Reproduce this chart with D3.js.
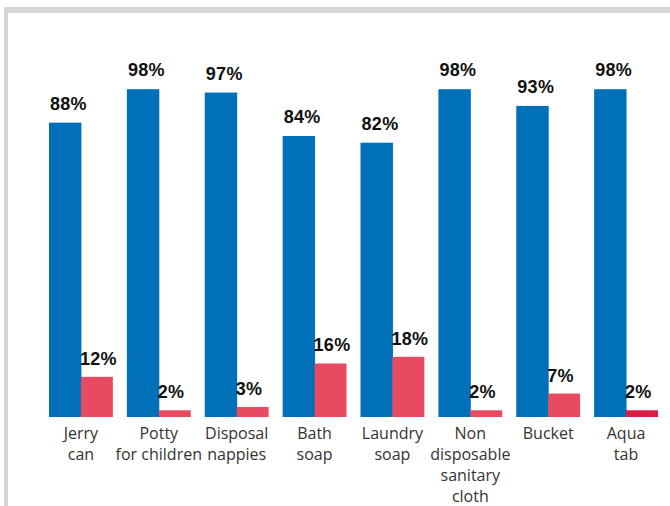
<!DOCTYPE html>
<html lang="en">
<head>
<meta charset="UTF-8">
<title>Bar chart</title>
<script src="https://d3js.org/d3.v7.min.js"></script>
<style>
  html, body { margin: 0; padding: 0; background: #fff; }
  .val { font-family: 'Liberation Sans', Arial, sans-serif; font-weight: bold; font-size: 18px; fill: #111; letter-spacing: 0.3px; }
  .cat { font-family: 'Open Sans', sans-serif; font-size: 16px; fill: #333; }
</style>
</head>
<body>
<div id="chart"></div>
<script>
// data
const categories = [
  ["Jerry", "can"],
  ["Potty", "for children"],
  ["Disposal", "nappies"],
  ["Bath", "soap"],
  ["Laundry", "soap"],
  ["Non", "disposable", "sanitary", "cloth"],
  ["Bucket"],
  ["Aqua", "tab"]
];
const blueValues = [88, 98, 97, 84, 82, 98, 93, 98];
const redValues = [12, 2, 3, 16, 18, 2, 7, 2];
const redColors = ["#e84a62", "#e84a62", "#e84a62", "#e84a62", "#e84a62", "#e84a62", "#e84a62", "#d91c42"];

const W = 670, H = 506;
const baseY = 417;

const svg = d3.select("#chart").append("svg")
  .attr("width", W).attr("height", H);

// grey frame on top and left
svg.append("rect").attr("x", 4).attr("y", 7).attr("width", W - 4).attr("height", 6).attr("fill", "#d5d5d5");
svg.append("rect").attr("x", 4).attr("y", 7).attr("width", 4).attr("height", H - 7).attr("fill", "#d5d5d5");

const keys = categories.map((c, i) => i);
const x = d3.scaleBand().domain(keys).range([49, 658]).paddingInner(0.18).paddingOuter(0);
const sub = d3.scaleBand().domain(["blue", "red"]).range([0, x.bandwidth()]);
const y = d3.scaleLinear().domain([0, 100]).range([baseY, 82.5]);

const groups = svg.selectAll("g.grp").data(keys).join("g")
  .attr("class", "grp")
  .attr("transform", i => `translate(${x(i)},0)`);

// blue bars
groups.append("rect")
  .attr("x", sub("blue"))
  .attr("y", i => y(blueValues[i]))
  .attr("width", sub.bandwidth() + 0.5)
  .attr("height", i => baseY - y(blueValues[i]))
  .attr("fill", "#0070b9");

// red bars
groups.append("rect")
  .attr("x", sub("red"))
  .attr("y", i => y(redValues[i]))
  .attr("width", sub.bandwidth())
  .attr("height", i => baseY - y(redValues[i]))
  .attr("fill", i => redColors[i]);

// value labels
groups.append("text").attr("class", "val")
  .attr("x", sub("blue") + 1)
  .attr("y", i => y(blueValues[i]) - 13)
  .text(i => blueValues[i] + "%");

groups.append("text").attr("class", "val")
  .attr("x", sub("red") - 1)
  .attr("y", i => y(redValues[i]) - 12)
  .text(i => redValues[i] + "%");

// category labels
groups.append("text").attr("class", "cat")
  .attr("text-anchor", "middle")
  .attr("x", x.bandwidth() / 2)
  .attr("y", baseY + 22)
  .selectAll("tspan").data(i => categories[i]).join("tspan")
  .attr("x", x.bandwidth() / 2)
  .attr("dy", (d, j) => j === 0 ? 0 : 21)
  .text(d => d);
</script>
</body>
</html>
